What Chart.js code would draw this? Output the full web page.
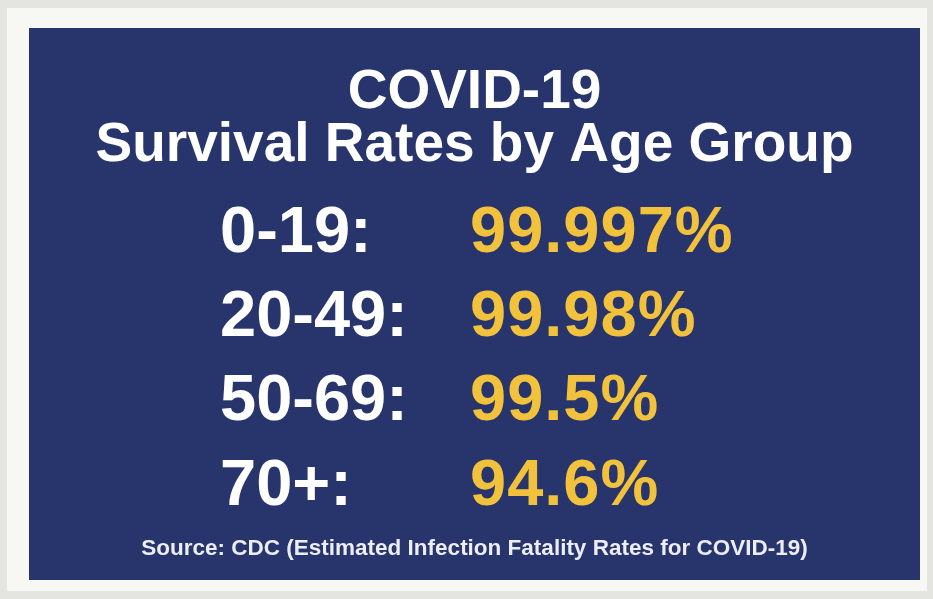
<!DOCTYPE html>
<html>
<head>
<meta charset="utf-8">
<title>COVID-19 Survival Rates by Age Group</title>
<script src="https://cdn.jsdelivr.net/npm/chart.js@4/dist/chart.umd.min.js"></script>
<style>
  html, body { margin: 0; padding: 0; background: #ebebe7; }
  canvas { display: block; }
</style>
</head>
<body>
<canvas id="myChart" width="933" height="599"></canvas>
<script>
'use strict';

// ** DATA **

let ageGroups = ['0-19:', '20-49:', '50-69:', '70+:'];
let survivalRates = [99.997, 99.98, 99.5, 94.6];
let titleLines = ['COVID-19', 'Survival Rates by Age Group'];
let sourceNote = 'Source: CDC (Estimated Infection Fatality Rates for COVID-19)';

// ** COLORS / FONTS **

const navy = '#27356c';
const gold = '#f2c23d';
const fontFamily = '"Liberation Sans", Arial, Helvetica, sans-serif';

const ctx = document.getElementById('myChart');

// ** PLUGINS **

// frame + navy board behind the chart
let boardPlugin = {
  id: 'board',
  beforeDraw(chart) {
    let c = chart.ctx;
    c.save();
    c.fillStyle = '#e4e4e0';
    c.fillRect(0, 0, chart.width, chart.height);
    c.fillStyle = '#f7f7f4';
    c.fillRect(7, 8, chart.width - 13, chart.height - 16);
    c.fillStyle = navy;
    c.fillRect(29, 28, 891, 552);
    c.restore();
  }
};

// percent values written next to each age group, at the row's y from the scale
let valuePlugin = {
  id: 'values',
  afterDatasetsDraw(chart) {
    let c = chart.ctx;
    let meta = chart.getDatasetMeta(0);
    c.save();
    c.font = 'bold 65px ' + fontFamily;
    c.fillStyle = gold;
    c.textAlign = 'left';
    c.textBaseline = 'middle';
    if ('letterSpacing' in c) c.letterSpacing = '1px';
    for (let i = 0; i < meta.data.length; i++) {
      let bar = meta.data[i];
      c.fillText(survivalRates[i] + '%', chart.chartArea.left + 260, bar.y);
    }
    c.restore();
  }
};

// ** CHART **

let myChartObj = {
  type: 'bar',
  data: {
    labels: ageGroups,
    datasets: [{
      label: 'Survival rate (%)',
      data: survivalRates,
      backgroundColor: 'rgba(0,0,0,0)',
      borderWidth: 0
    }]
  },
  options: {
    indexAxis: 'y',
    responsive: false,
    animation: false,
    events: [],
    layout: {
      padding: { top: 0, left: 29, right: 13, bottom: 0 }
    },
    scales: {
      x: {
        display: false,
        min: 0,
        max: 100
      },
      y: {
        position: 'left',
        grid: { display: false, drawTicks: false },
        border: { display: false },
        // labels sit just inside the plot, left aligned
        afterFit(scale) {
          scale.width = 181;
        },
        ticks: {
          mirror: true,
          crossAlign: 'near',
          padding: 10,
          color: '#ffffff',
          font: { family: fontFamily, size: 65, weight: 'bold' }
        }
      }
    },
    plugins: {
      legend: { display: false },
      tooltip: { enabled: false },
      title: {
        display: true,
        text: titleLines,
        color: '#ffffff',
        font: { family: fontFamily, size: 55, weight: 'bold', lineHeight: 0.97 },
        padding: { top: 66, bottom: 19 }
      },
      subtitle: {
        display: true,
        position: 'bottom',
        text: sourceNote,
        color: '#eceef4',
        font: { family: fontFamily, size: 22.5, weight: 'bold', lineHeight: 1.2 },
        padding: { top: 6, bottom: 37 }
      }
    }
  },
  plugins: [boardPlugin, valuePlugin]
};

new Chart(ctx, myChartObj);
</script>
</body>
</html>
